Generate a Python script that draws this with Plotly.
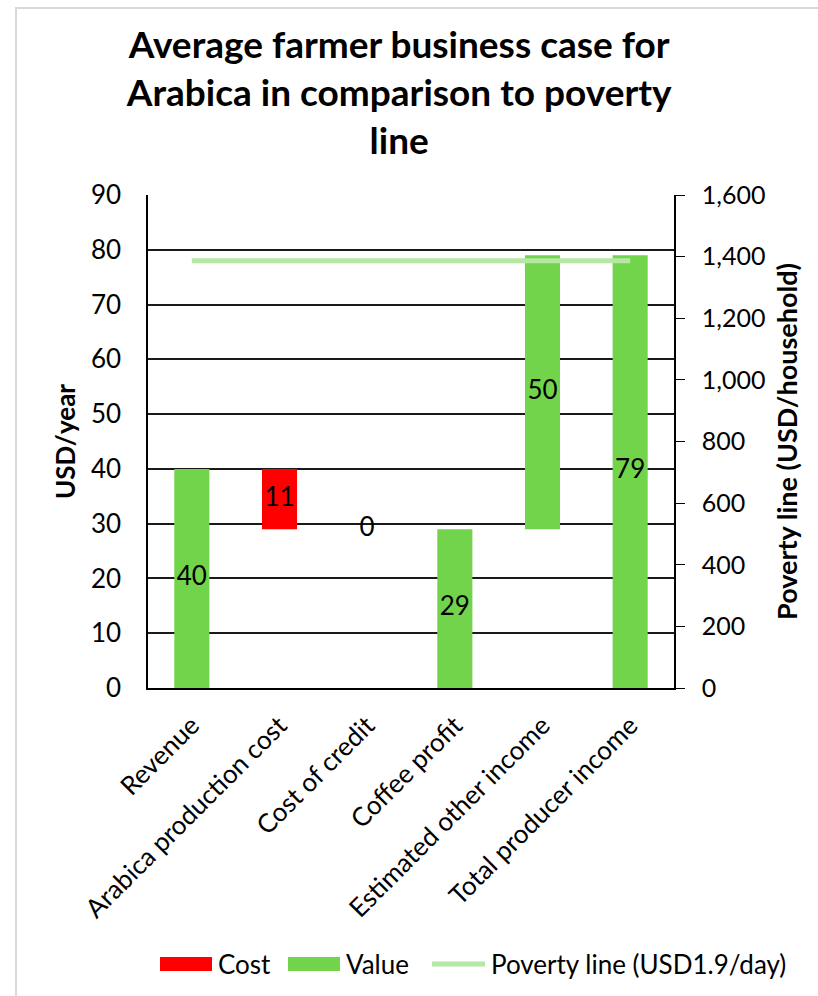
import plotly.graph_objects as go

categories = ["Revenue", "Arabica production cost", "Cost of credit",
              "Coffee profit", "Estimated other income", "Total producer income"]
values = [40, 11, 0, 29, 50, 79]
kinds = ["Value", "Cost", "Cost", "Value", "Value", "Value"]
bases = [0, 29, 29, 0, 29, 0]
poverty_line = [1387, 1387, 1387, 1387, 1387, 1387]
left_ticks = [0, 10, 20, 30, 40, 50, 60, 70, 80, 90]
right_ticks = [0, 200, 400, 600, 800, 1000, 1200, 1400, 1600]
legend_names = ["Cost", "Value", "Poverty line (USD1.9/day)"]

FONT = "Lato"
GREEN = "#72d44b"
RED = "#ff0000"
LINE_GREEN = "#b5e8a2"

W, H = 818, 996
L, R, T, B = 148, 144, 195, 308
PW, PH = W - L - R, H - T - B


def px(x):  # pixel -> paper x
    return (x - L) / PW


def py(y):  # pixel -> paper y
    return (H - B - y) / PH


fig = go.Figure()

for kind, color in [("Cost", RED), ("Value", GREEN)]:
    ys = [v if k == kind else None for v, k in zip(values, kinds)]
    bs = [b if k == kind else None for b, k in zip(bases, kinds)]
    fig.add_trace(go.Bar(x=categories, y=ys, base=bs, name=kind,
                         marker=dict(color=color, line=dict(width=0)),
                         width=0.4, yaxis="y", showlegend=False))

fig.add_trace(go.Scatter(
    x=categories, y=[b + v / 2 for b, v in zip(bases, values)],
    mode="text", text=[str(v) for v in values],
    textfont=dict(family=FONT, size=26, color="black"),
    showlegend=False, hoverinfo="skip", yaxis="y"))

fig.add_trace(go.Scatter(
    x=categories, y=poverty_line, mode="lines",
    name=legend_names[2], showlegend=False,
    line=dict(color=LINE_GREEN, width=5), yaxis="y2"))

fig.update_layout(
    width=W, height=H,
    margin=dict(l=L, r=R, t=T, b=B),
    paper_bgcolor="white", plot_bgcolor="white",
    font=dict(family=FONT, size=22, color="black"),
    barmode="overlay",
    showlegend=False,
    title=dict(text="<b>Average farmer business case for<br>Arabica in comparison to poverty<br>line</b>",
               x=0.488, xanchor="center", yref="container", y=1 - 58 / 996,
               yanchor="middle",
               font=dict(family=FONT, size=37, color="black")),
    xaxis=dict(showgrid=False, tickangle=-45, showline=True, linecolor="black",
               linewidth=2, mirror=False, tickfont=dict(family=FONT, size=26),
               ticks="", automargin=False, ticklabelstandoff=10),
    yaxis=dict(range=[0, 90], tickvals=left_ticks, showgrid=True,
               gridcolor="#1a1a1a", gridwidth=1.5, showline=True,
               linecolor="black", linewidth=1.5, ticks="",
               zeroline=False, ticklabelstandoff=20, automargin=False,
               tickfont=dict(family=FONT, size=26),
               title=dict(text="<b>USD/year</b>", font=dict(family=FONT, size=26),
                          standoff=8)),
    yaxis2=dict(range=[0, 1600], tickvals=right_ticks, overlaying="y", side="right",
                showgrid=False, showline=True, linecolor="black", linewidth=1.5,
                ticks="outside", ticklen=9, tickcolor="black", tickformat=",",
                zeroline=False, ticklabelstandoff=12, automargin=False,
                tickfont=dict(family=FONT, size=25),
                title=dict(text="<b>Poverty line (USD/household)</b>",
                           font=dict(family=FONT, size=27), standoff=14)),
)

# outer light border
fig.add_shape(type="rect", xref="paper", yref="paper",
              x0=px(16), x1=px(830), y0=py(1010), y1=py(8),
              line=dict(color="#d9d9d9", width=2), fillcolor="rgba(0,0,0,0)",
              layer="below")

# custom legend (wide swatches as in the reference)
LEG_Y = 964
fig.add_shape(type="rect", xref="paper", yref="paper",
              x0=px(160), x1=px(212), y0=py(971), y1=py(957),
              fillcolor=RED, line=dict(width=0))
fig.add_shape(type="rect", xref="paper", yref="paper",
              x0=px(288), x1=px(340), y0=py(971), y1=py(957),
              fillcolor=GREEN, line=dict(width=0))
fig.add_shape(type="line", xref="paper", yref="paper",
              x0=px(432), x1=px(485), y0=py(LEG_Y), y1=py(LEG_Y),
              line=dict(color=LINE_GREEN, width=5))
for name, xpix in zip(legend_names, [216, 344, 489]):
    fig.add_annotation(text=name, xref="paper", yref="paper",
                       x=px(xpix), y=py(LEG_Y), xanchor="left", yanchor="middle",
                       showarrow=False, font=dict(family=FONT, size=26, color="black"))

fig.write_html("out.html")
